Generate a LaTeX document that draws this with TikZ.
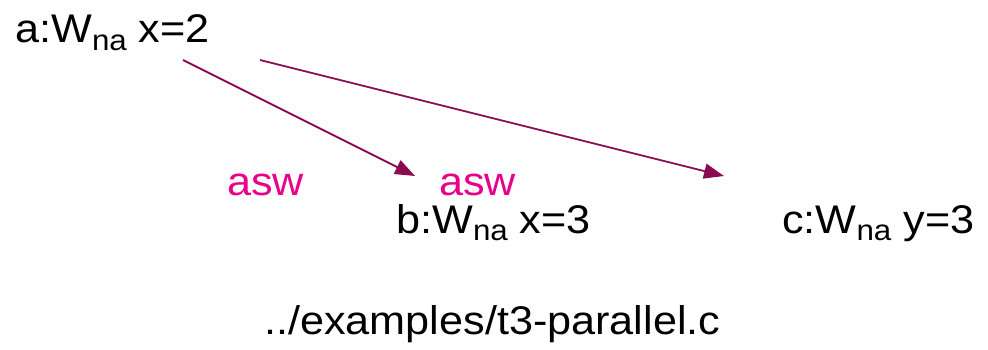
\documentclass[tikz,border=0pt]{standalone}
\usepackage{fontspec}
\setmainfont[FakeStretch=1.08]{Liberation Sans}
\usetikzlibrary{arrows.meta}
\definecolor{edgecol}{HTML}{8B0A50}
\definecolor{labcol}{HTML}{E8008A}
\newcommand{\lowna}{\raisebox{-0.18em}{\fontsize{29}{29}\selectfont na}}
\tikzset{
  event/.style={anchor=base west, inner sep=0pt, font=\fontsize{40}{40}\selectfont},
  rellabel/.style={anchor=base west, inner sep=0pt, text=labcol, font=\fontsize{40}{40}\selectfont},
  rel/.style={draw=edgecol, line width=1.8pt, -{Triangle[length=20pt,width=15pt]}},
}
\begin{document}
\begin{tikzpicture}[x=1pt,y=-1pt]
  \useasboundingbox (0,0) rectangle (988,350);
  % events
  \node[event] (a) at (15,43) {a:W\lowna{} x=2};
  \node[event] (b) at (396,233) {b:W\lowna{} x=3};
  \node[event] (c) at (782,233) {c:W\lowna{} y=3};
  % relation labels
  \node[rellabel] (l1) at (227,195) {asw};
  \node[rellabel] (l2) at (439,195) {asw};
  % file name
  \node[event] (file) at (264,334) {../examples/t3-parallel.c};
  % endpoints of the asw edges
  \coordinate (s1) at (183,60);
  \coordinate (t1) at (415,176);
  \coordinate (s2) at (260,60);
  \coordinate (t2) at (724,176);
  \draw[rel] (s1) -- (t1);
  \draw[rel] (s2) -- (t2);
\end{tikzpicture}
\end{document}
